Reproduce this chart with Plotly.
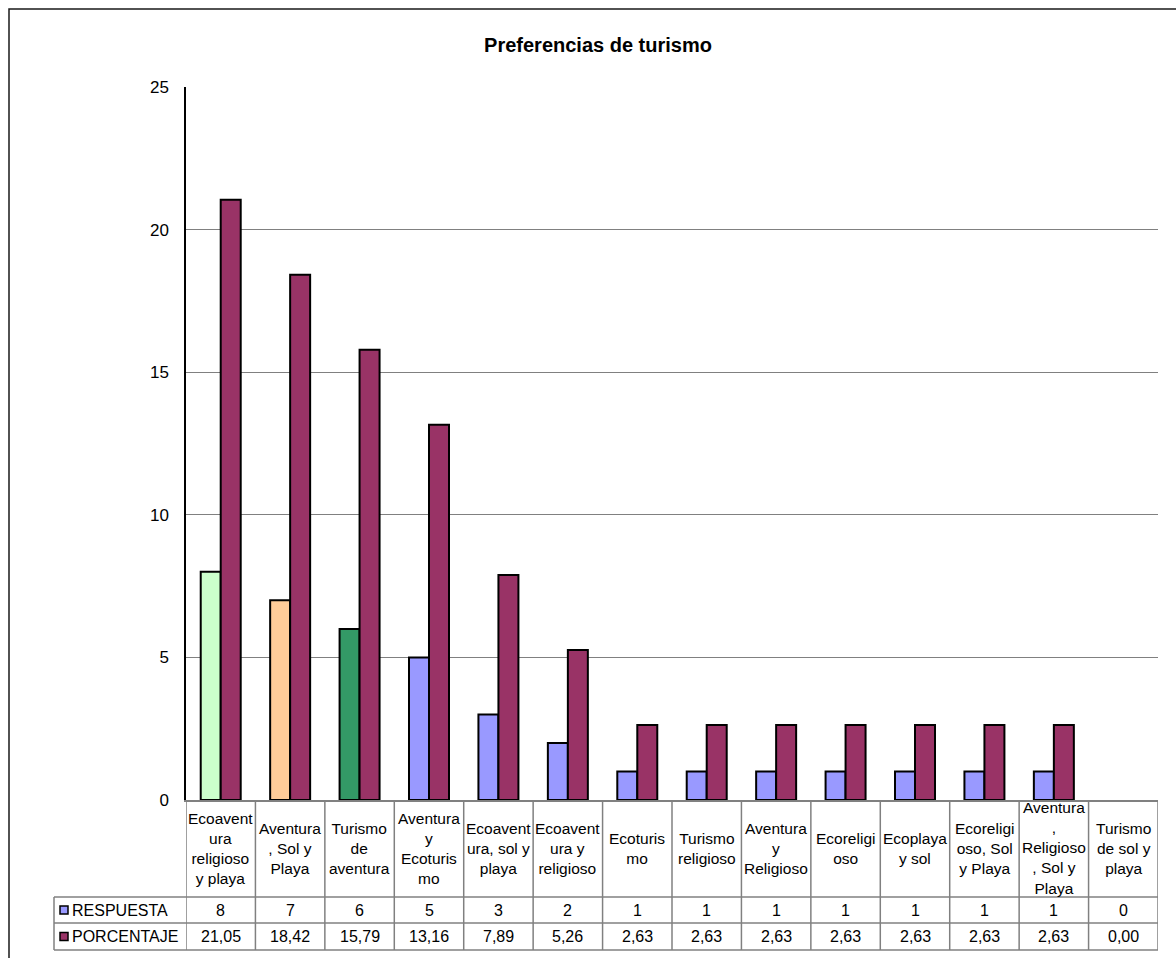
import plotly.graph_objects as go

# ---------------- data ----------------
categories = [
    "Ecoaventura religioso y playa", "Aventura, Sol y Playa", "Turismo de aventura",
    "Aventura y Ecoturismo", "Ecoaventura, sol y playa", "Ecoaventura y religioso",
    "Ecoturismo", "Turismo religioso", "Aventura y Religioso", "Ecoreligioso",
    "Ecoplaya y sol", "Ecoreligioso, Sol y Playa", "Aventura, Religioso, Sol y Playa",
    "Turismo de sol y playa",
]
category_labels = [
    "Ecoavent<br>ura<br>religioso<br>y playa", "Aventura<br>, Sol y<br>Playa",
    "Turismo<br>de<br>aventura", "Aventura<br>y<br>Ecoturis<br>mo",
    "Ecoavent<br>ura, sol y<br>playa", "Ecoavent<br>ura y<br>religioso",
    "Ecoturis<br>mo", "Turismo<br>religioso", "Aventura<br>y<br>Religioso",
    "Ecoreligi<br>oso", "Ecoplaya<br>y sol", "Ecoreligi<br>oso, Sol<br>y Playa",
    "Aventura<br>,<br>Religioso<br>, Sol y<br>Playa", "Turismo<br>de sol y<br>playa",
]
respuesta = [8, 7, 6, 5, 3, 2, 1, 1, 1, 1, 1, 1, 1, 0]
porcentaje = [21.05, 18.42, 15.79, 13.16, 7.89, 5.26, 2.63, 2.63, 2.63, 2.63, 2.63, 2.63, 2.63, 0.00]
series_names = ["RESPUESTA", "PORCENTAJE"]
y_ticks = [0, 5, 10, 15, 20, 25]

# ---------------- styles ----------------
resp_colors = ["#CCFFCC", "#FFCC99", "#339966"] + ["#9999FF"] * 11
resp_legend_color = "#9999FF"
porc_color = "#993366"
FONT = "Liberation Sans, Arial, sans-serif"
W, H = 1176, 958
L, R, T, B = 186, 18, 87, 158
PW, PH = W - L - R, H - T - B


def px_x(p):
    return (p - L) / PW


def px_y(p):
    return (H - B - p) / PH


def outline_widths(vals):
    return [2 if v > 0 else 0 for v in vals]


fig = go.Figure()
fig.add_trace(go.Bar(
    x=categories, y=respuesta, name=series_names[0],
    marker=dict(color=resp_colors, line=dict(color="black", width=outline_widths(respuesta))),
))
fig.add_trace(go.Bar(
    x=categories, y=porcentaje, name=series_names[1],
    marker=dict(color=porc_color, line=dict(color="black", width=outline_widths(porcentaje))),
))

shapes = []
ann = []
grid = "#808080"

# outer chart border
shapes.append(dict(type="rect", xref="paper", yref="paper",
                   x0=px_x(9), x1=px_x(1250), y0=px_y(1050), y1=px_y(9),
                   line=dict(color="#1a1a1a", width=1.5), layer="below"))

# table horizontal lines
for yy in [897, 923, 950]:
    shapes.append(dict(type="line", xref="paper", yref="paper",
                       x0=px_x(54), x1=px_x(1158), y0=px_y(yy), y1=px_y(yy),
                       line=dict(color=grid, width=1.5)))
# table vertical lines
n = len(categories)
for i in range(n + 1):
    shapes.append(dict(type="line", xref="x", yref="paper",
                       x0=i - 0.5, x1=i - 0.5, y0=px_y(800), y1=px_y(950),
                       line=dict(color=grid, width=1.5)))
shapes.append(dict(type="line", xref="paper", yref="paper",
                   x0=px_x(54), x1=px_x(54), y0=px_y(897), y1=px_y(950),
                   line=dict(color=grid, width=1.5)))

# legend keys inside table
for yc, col in [(910, resp_legend_color), (936.5, porc_color)]:
    shapes.append(dict(type="rect", xref="paper", yref="paper",
                       x0=px_x(60), x1=px_x(68), y0=px_y(yc + 4), y1=px_y(yc - 4),
                       fillcolor=col, line=dict(color="black", width=1.5)))

tfont = dict(family=FONT, size=15.5, color="black")
rfont = dict(family=FONT, size=16, color="black")
for i, cat in enumerate(categories):
    ann.append(dict(x=cat, xref="x", y=px_y(848.5), yref="paper",
                    text=category_labels[i], showarrow=False, font=tfont,
                    xanchor="center", yanchor="middle", align="center"))
    ann.append(dict(x=cat, xref="x", y=px_y(910), yref="paper",
                    text=str(respuesta[i]), showarrow=False, font=rfont,
                    xanchor="center", yanchor="middle"))
    ann.append(dict(x=cat, xref="x", y=px_y(936.5), yref="paper",
                    text=f"{porcentaje[i]:.2f}".replace(".", ","), showarrow=False, font=rfont,
                    xanchor="center", yanchor="middle"))
for yc, name in [(910, series_names[0]), (936.5, series_names[1])]:
    ann.append(dict(x=px_x(70), xref="paper", y=px_y(yc), yref="paper",
                    text=name, showarrow=False, font=rfont,
                    xanchor="left", yanchor="middle"))

fig.update_layout(
    width=W, height=H,
    margin=dict(l=L, r=R, t=T, b=B, pad=0),
    paper_bgcolor="white", plot_bgcolor="white",
    barmode="group", bargap=0.424, bargroupgap=0,
    showlegend=False,
    title=dict(text="<b>Preferencias de turismo</b>", x=598 / W, xref="container",
               xanchor="center", y=1 - 45 / H, yref="container", yanchor="middle",
               font=dict(family=FONT, size=20, color="black")),
    xaxis=dict(type="category", range=[-0.5, n - 0.5], showticklabels=False,
               showgrid=False, zeroline=False, showline=True, linecolor=grid,
               linewidth=1.5, ticks=""),
    yaxis=dict(range=[0, 25], tickvals=y_ticks, showgrid=True, gridcolor=grid,
               gridwidth=1.2, zeroline=False, showline=True, linecolor="black",
               linewidth=1.5, ticks="", ticklabelstandoff=12,
               tickfont=dict(family=FONT, size=17, color="black")),
    shapes=shapes, annotations=ann,
)

fig.write_html("out.html")
